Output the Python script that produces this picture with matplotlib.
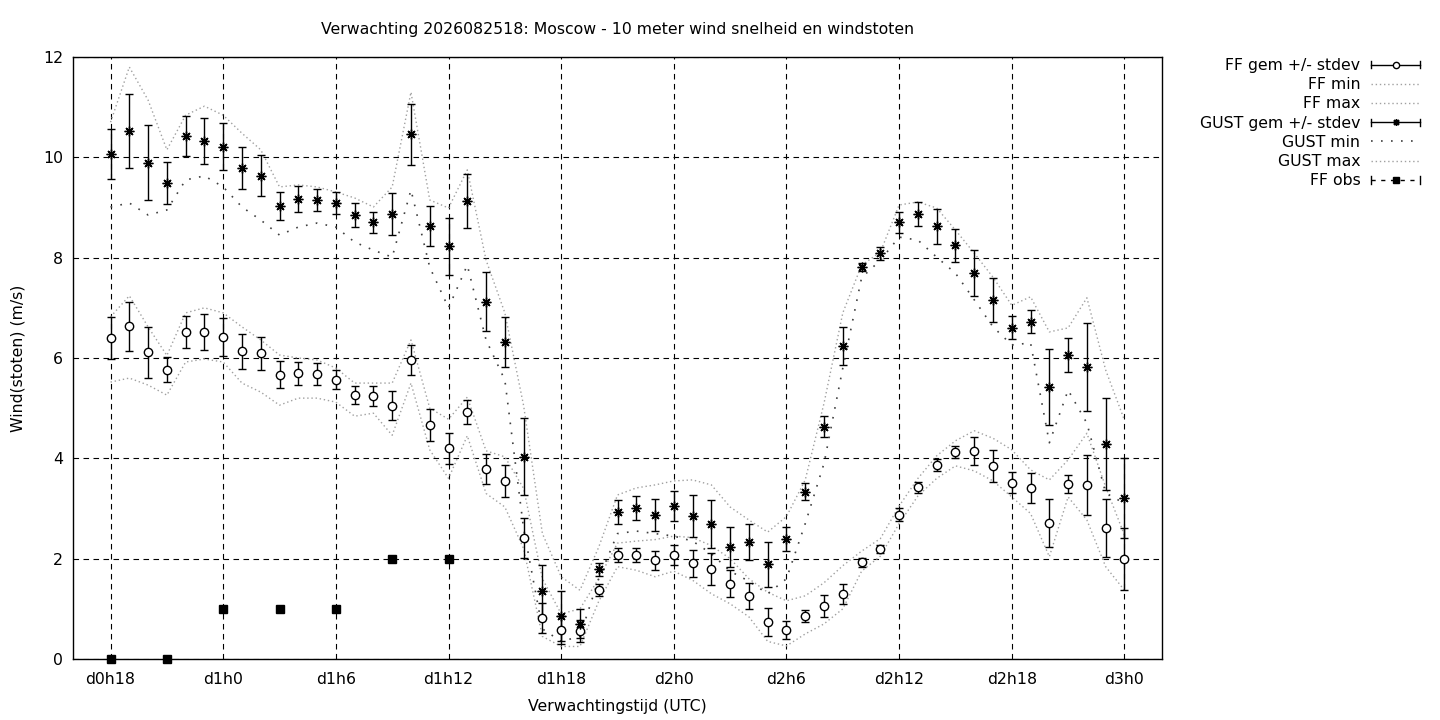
import matplotlib

matplotlib.use("Agg")
import matplotlib.pyplot as plt
from matplotlib.lines import Line2D
from matplotlib.legend_handler import HandlerBase

# forecast hours since d0h0 (hourly, d0h18 .. d3h0)
hours = list(range(18, 73))

ff_mean = [6.40, 6.63, 6.11, 5.77, 6.51, 6.51, 6.41, 6.13, 6.09, 5.67,
           5.70, 5.68, 5.57, 5.26, 5.25, 5.05, 5.96, 4.66, 4.20, 4.93,
           3.78, 3.54, 2.41, 0.82, 0.58, 0.56, 1.38, 2.07, 2.07, 1.97,
           2.07, 1.91, 1.79, 1.50, 1.26, 0.74, 0.58, 0.86, 1.06, 1.30,
           1.93, 2.19, 2.88, 3.42, 3.87, 4.13, 4.15, 3.85, 3.51, 3.41,
           2.71, 3.49, 3.47, 2.61, 2.00]
ff_sd = [0.42, 0.49, 0.50, 0.25, 0.32, 0.36, 0.38, 0.35, 0.33, 0.27,
         0.23, 0.22, 0.19, 0.18, 0.20, 0.29, 0.29, 0.32, 0.31, 0.24,
         0.30, 0.32, 0.40, 0.30, 0.28, 0.22, 0.12, 0.14, 0.14, 0.19,
         0.20, 0.27, 0.32, 0.27, 0.26, 0.28, 0.18, 0.12, 0.22, 0.20,
         0.09, 0.08, 0.13, 0.11, 0.12, 0.12, 0.28, 0.32, 0.21, 0.30,
         0.48, 0.18, 0.59, 0.58, 0.62]
ff_min = [5.52, 5.60, 5.46, 5.26, 5.92, 5.98, 5.92, 5.50, 5.32, 5.06,
          5.20, 5.20, 5.12, 4.84, 4.90, 4.46, 5.50, 4.17, 3.60, 4.45,
          3.30, 3.03, 2.20, 0.45, 0.25, 0.25, 1.15, 1.84, 1.77, 1.64,
          1.75, 1.57, 1.30, 1.10, 0.84, 0.35, 0.26, 0.50, 0.70, 1.00,
          1.75, 2.05, 2.70, 3.25, 3.60, 3.85, 3.75, 3.55, 3.23, 2.90,
          2.04, 3.23, 2.77, 1.84, 1.37]
ff_max = [6.82, 7.24, 6.62, 6.05, 6.90, 7.00, 6.90, 6.62, 6.36, 6.06,
          6.00, 5.96, 5.80, 5.50, 5.50, 5.50, 6.36, 5.00, 4.78, 5.22,
          4.15, 4.03, 3.40, 1.60, 0.90, 1.00, 1.60, 2.31, 2.35, 2.38,
          2.45, 2.42, 2.26, 2.00, 1.60, 1.33, 1.16, 1.26, 1.52, 1.86,
          2.15, 2.40, 3.05, 3.60, 4.05, 4.35, 4.55, 4.40, 4.17, 3.77,
          3.57, 3.97, 4.50, 3.43, 2.47]

gust_mean = [10.07, 10.52, 9.89, 9.49, 10.42, 10.32, 10.21, 9.79, 9.63, 9.03,
             9.17, 9.15, 9.09, 8.85, 8.71, 8.87, 10.46, 8.63, 8.23, 9.13,
             7.12, 6.32, 4.03, 1.36, 0.86, 0.70, 1.79, 2.93, 3.01, 2.87,
             3.05, 2.85, 2.69, 2.23, 2.33, 1.89, 2.39, 3.33, 4.63, 6.24,
             7.81, 8.09, 8.71, 8.87, 8.63, 8.25, 7.69, 7.16, 6.60, 6.72,
             5.42, 6.06, 5.82, 4.29, 3.21]
gust_sd = [0.50, 0.74, 0.75, 0.42, 0.40, 0.46, 0.47, 0.42, 0.41, 0.28,
           0.25, 0.21, 0.21, 0.24, 0.21, 0.41, 0.61, 0.39, 0.57, 0.53,
           0.59, 0.50, 0.77, 0.52, 0.50, 0.29, 0.13, 0.24, 0.23, 0.31,
           0.30, 0.41, 0.48, 0.40, 0.36, 0.45, 0.24, 0.17, 0.21, 0.37,
           0.08, 0.13, 0.21, 0.24, 0.35, 0.33, 0.46, 0.44, 0.23, 0.23,
           0.75, 0.33, 0.88, 0.92, 0.80]
gust_min = [9.01, 9.09, 8.85, 8.95, 9.55, 9.63, 9.41, 9.01, 8.75, 8.45,
            8.61, 8.69, 8.61, 8.31, 8.15, 8.01, 9.35, 7.81, 7.00, 7.85,
            6.36, 5.56, 2.60, 0.60, 0.35, 0.45, 1.60, 2.50, 2.55, 2.50,
            2.45, 2.35, 2.10, 1.75, 1.55, 1.30, 1.60, 2.70, 3.90, 5.80,
            7.60, 7.95, 8.41, 8.35, 8.01, 7.69, 7.16, 6.62, 6.26, 6.30,
            4.31, 5.36, 4.70, 3.31, 3.10]
gust_max = [10.70, 11.80, 11.14, 10.15, 10.84, 11.02, 10.84, 10.48, 10.15, 9.41,
            9.45, 9.41, 9.31, 9.19, 9.01, 9.41, 11.30, 9.15, 8.99, 9.75,
            7.95, 6.90, 5.05, 2.50, 1.64, 1.37, 2.23, 3.27, 3.41, 3.47,
            3.55, 3.57, 3.47, 3.03, 2.77, 2.53, 2.84, 3.57, 5.10, 6.90,
            7.85, 8.11, 9.05, 9.11, 8.99, 8.55, 8.09, 7.61, 7.05, 7.22,
            6.52, 6.60, 7.20, 5.76, 4.76]

obs_hours = [18, 21, 24, 27, 30, 33, 36]
obs_ff = [0, 0, 1, 1, 1, 2, 2]

tick_hours = [18, 24, 30, 36, 42, 48, 54, 60, 66, 72]
tick_labels = ["d0h18", "d1h0", "d1h6", "d1h12", "d1h18",
               "d2h0", "d2h6", "d2h12", "d2h18", "d3h0"]

GRAY = "#a0a0a0"
FS = 11.3


class CapHandler(HandlerBase):
    """gnuplot style key sample: |--marker--| """

    def __init__(self, marker, ms, mfc, ls="-"):
        super().__init__()
        self.marker, self.ms, self.mfc, self.ls = marker, ms, mfc, ls

    def create_artists(self, legend, orig_handle, xdescent, ydescent,
                       width, height, fontsize, trans):
        x0 = -xdescent
        x1 = x0 + width
        y = (height - ydescent) / 2
        c = 2.6
        arts = [
            Line2D([x0, x1], [y, y], color="k", lw=1, ls=self.ls),
            Line2D([x0, x0], [y - c, y + c], color="k", lw=1),
            Line2D([x1, x1], [y - c, y + c], color="k", lw=1),
            Line2D([(x0 + x1) / 2], [y], ls="none", marker=self.marker,
                   ms=self.ms, mfc=self.mfc, mec="k", mew=1),
        ]
        for a in arts:
            a.set_transform(trans)
        return arts


fig = plt.figure(figsize=(14.4, 7.2), dpi=100)
ax = fig.add_axes([73 / 1440, 61 / 720, 1089 / 1440, 602 / 720])

ff_dots = (0, (1, 2))
gust_dots = (0, (1, 5))
l_ffmin, = ax.plot(hours, ff_min, color=GRAY, ls=ff_dots, lw=1)
l_ffmax, = ax.plot(hours, ff_max, color=GRAY, ls=ff_dots, lw=1)
l_gmin, = ax.plot(hours, gust_min, color="#404040", ls=gust_dots, lw=1.2)
l_gmax, = ax.plot(hours, gust_max, color=GRAY, ls=ff_dots, lw=1)

ax.errorbar(hours, ff_mean, yerr=ff_sd, fmt="o", ms=6, mfc="white", mec="k",
            mew=1, ecolor="k", elinewidth=1, capsize=3, capthick=1, zorder=4)
ax.errorbar(hours, gust_mean, yerr=gust_sd, fmt="none", ecolor="k",
            elinewidth=1, capsize=3, capthick=1, zorder=4)
ax.plot(hours, gust_mean, ls="none", marker=(8, 2, 0), ms=7, mec="k",
        mew=1, zorder=5)
ax.plot(obs_hours, obs_ff, ls="none", marker="s", ms=6, color="k",
        clip_on=False, zorder=6)

ax.set_xlim(16, 74)
ax.set_ylim(0, 12)
ax.set_xticks(tick_hours, tick_labels)
ax.set_yticks(range(0, 13, 2))
ax.tick_params(length=0, labelsize=FS)
ax.tick_params(axis="x", pad=9)
ax.tick_params(axis="y", pad=7)
ax.set_axisbelow(True)
ax.grid(True, color="k", ls=(0, (5, 4)), lw=0.8)
for s in ax.spines.values():
    s.set_linewidth(1)

fig.text(617.5 / 1440, 1 - 29.5 / 720, "Verwachting 2026082518: Moscow - 10 meter wind snelheid en windstoten",
         ha="center", va="center", fontsize=FS)
fig.text(617.5 / 1440, 1 - 706 / 720, "Verwachtingstijd (UTC)",
         ha="center", va="center", fontsize=FS)
fig.text(18 / 1440, 1 - 358 / 720, "Wind(stoten) (m/s)", rotation=90,
         ha="center", va="center", fontsize=FS)

h_ff = Line2D([], [])
h_gust = Line2D([], [])
h_obs = Line2D([], [])
handles = [h_ff, l_ffmin, l_ffmax, h_gust, l_gmin, l_gmax, h_obs]
labels = ["FF gem +/- stdev", "FF min", "FF max", "GUST gem +/- stdev",
          "GUST min", "GUST max", "FF obs"]
fig.legend(handles, labels, loc="upper right",
           bbox_to_anchor=(1420 / 1440, 1 - 58 / 720),
           handler_map={h_ff: CapHandler("o", 4.5, "white"),
                        h_gust: CapHandler((8, 2, 0), 5, "k"),
                        h_obs: CapHandler("s", 5, "k", ls=(0, (3, 4)))},
           markerfirst=False, alignment="right", frameon=False,
           fontsize=FS, handlelength=3.1, handletextpad=0.7,
           labelspacing=0.27, borderpad=0, borderaxespad=0)

fig.savefig("out.png", dpi=100)
